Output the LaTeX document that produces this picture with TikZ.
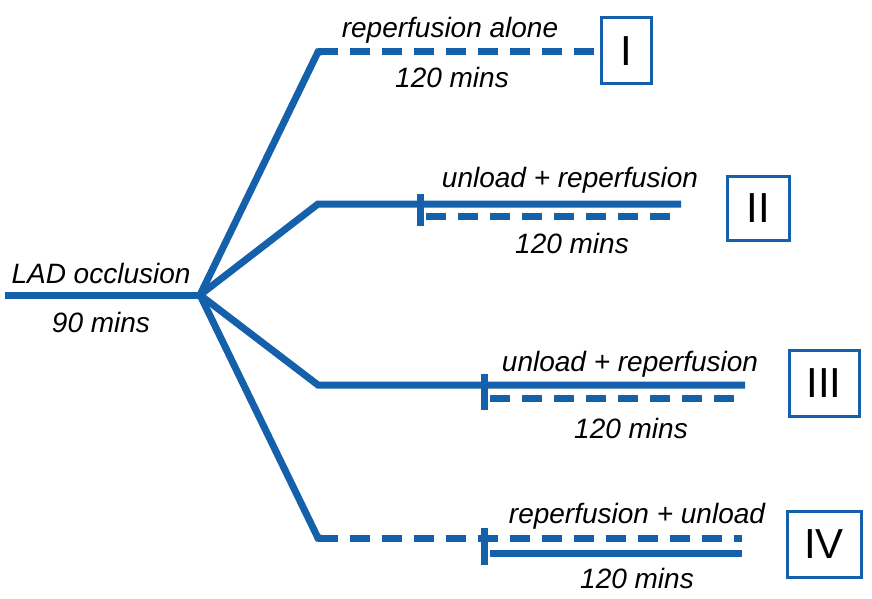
\documentclass[tikz,border=0pt]{standalone}
\usepackage{fontspec}
\setmainfont{Liberation Sans}
\definecolor{lineblue}{HTML}{1560AB}
\begin{document}
\begin{tikzpicture}[x=1pt,y=-1pt,
  wire/.style={line width=7pt,draw=lineblue},
  dwire/.style={line width=7pt,draw=lineblue,dash pattern=on 20pt off 12pt},
  lbl/.style={font=\fontsize{28}{30}\selectfont\itshape,inner sep=0pt},
  grp/.style={draw=lineblue,line width=3pt,font=\fontsize{42}{44}\selectfont,minimum width=60pt,minimum height=64pt,inner sep=0pt}]
\useasboundingbox (0,0) rectangle (872,599);
% coordinates
\coordinate (s) at (5,295);
\coordinate (hub) at (200,295);
\coordinate (b1) at (318,52);
\coordinate (e1) at (595,52);
\coordinate (b2) at (318,204);
\coordinate (e2) at (681,204);
\coordinate (d2s) at (426,216);
\coordinate (d2e) at (681,216);
\coordinate (b3) at (318,385);
\coordinate (e3) at (745,385);
\coordinate (d3s) at (490,398);
\coordinate (d3e) at (745,398);
\coordinate (b4) at (318,538);
\coordinate (e4) at (742,538);
\coordinate (s4s) at (490,553);
\coordinate (s4e) at (742,553);
\coordinate (k2a) at (420,194);
\coordinate (k2b) at (420,226);
\coordinate (k3a) at (484,374);
\coordinate (k3b) at (484,410);
\coordinate (k4a) at (484,528);
\coordinate (k4b) at (484,565);
% main
\draw[wire] (s) -- (hub);
% I
\draw[wire,line join=miter] (hub) -- (b1) -- ++(4,0);
\draw[dwire] (b1) -- (e1);
% II
\draw[wire,line join=miter] (hub) -- (b2) -- (e2);
\draw[wire] (k2a) -- (k2b);
\draw[dwire] (d2s) -- (d2e);
% III
\draw[wire,line join=miter] (hub) -- (b3) -- (e3);
\draw[wire] (k3a) -- (k3b);
\draw[dwire] (d3s) -- (d3e);
% IV
\draw[wire,line join=miter] (hub) -- (b4) -- ++(4,0);
\draw[dwire] (b4) -- (e4);
\draw[wire] (k4a) -- (k4b);
\draw[wire] (s4s) -- (s4e);
% labels
\node[lbl] (l0) at (101,273) {LAD occlusion};
\node[lbl] (m0) at (101,322) {90 mins};
\node[lbl] (l1) at (450,30) {reperfusion alone};
\node[lbl] (m1) at (452,77) {120 mins};
\node[lbl] (l2) at (570,180) {unload + reperfusion};
\node[lbl] (m2) at (572,243) {120 mins};
\node[lbl] (l3) at (630,364) {unload + reperfusion};
\node[lbl] (m3) at (631,428) {120 mins};
\node[lbl] (l4) at (637,516) {reperfusion + unload};
\node[lbl] (m4) at (637,578) {120 mins};
% boxes
\node[grp,minimum width=50pt,minimum height=66pt] (g1) at (626,51) {I};
\node[grp,minimum width=62pt,minimum height=64pt] (g2) at (758,208) {II};
\node[grp,minimum width=70pt,minimum height=66pt] (g3) at (824,383) {III};
\node[grp,minimum width=74pt,minimum height=66pt] (g4) at (824,544) {IV};
\end{tikzpicture}
\end{document}
